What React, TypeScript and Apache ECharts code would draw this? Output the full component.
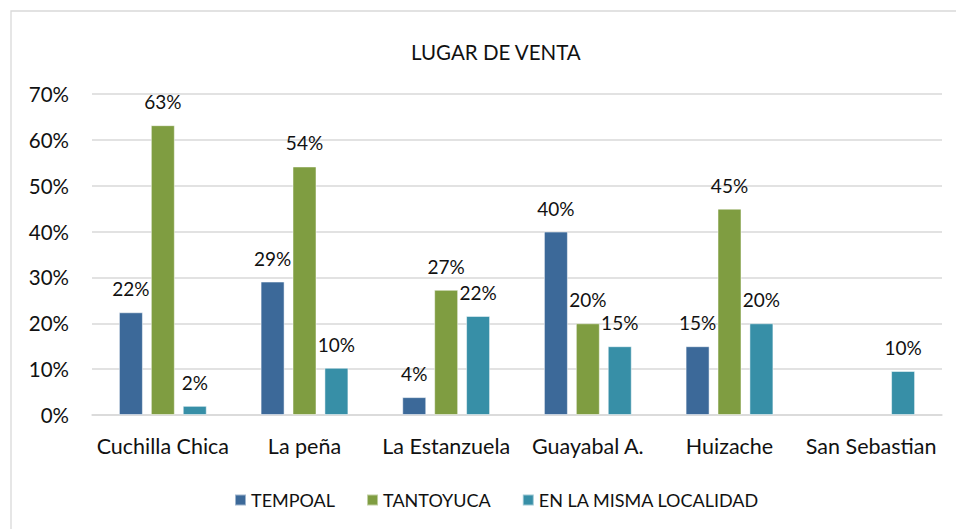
import React, { useEffect, useRef } from "react";
import * as echarts from "echarts";

const categories = ["Cuchilla Chica", "La peña", "La Estanzuela", "Guayabal A.", "Huizache", "San Sebastian"];
const seriesNames = ["TEMPOAL", "TANTOYUCA", "EN LA MISMA LOCALIDAD"];
const tempoal: (number | null)[] = [22.4, 29.1, 3.9, 40.0, 15.0, null];
const tantoyuca: (number | null)[] = [63.2, 54.2, 27.3, 20.0, 45.0, null];
const mismaLocalidad: (number | null)[] = [2.0, 10.3, 21.6, 15.0, 20.0, 9.6];
const colors = ["#3C6999", "#7F9D41", "#378FA7"];
const yTicks = { min: 0, max: 70, interval: 10 };

const FONT = "Lato, 'Noto Sans', sans-serif";

export default function App() {
  const ref = useRef<HTMLDivElement>(null);
  useEffect(() => {
    if (!ref.current) return;
    const chart = echarts.init(ref.current, null, { renderer: "svg" });
    const data = [tempoal, tantoyuca, mismaLocalidad];
    chart.setOption({
      animation: false,
      backgroundColor: "#ffffff",
      textStyle: { fontFamily: FONT },
      graphic: [
        {
          type: "rect",
          shape: { x: 11, y: 11, width: 1200, height: 800 },
          style: { fill: "none", stroke: "#d9d9d9", lineWidth: 1.3 },
          silent: true,
        },
      ],
      title: {
        text: "LUGAR DE VENTA",
        left: 406,
        top: 36,
        textStyle: { fontFamily: FONT, fontSize: 20.5, fontWeight: "normal", color: "#111" },
      },
      legend: {
        left: 229,
        top: 486,
        itemWidth: 11,
        itemHeight: 11,
        itemGap: 31,
        icon: "rect",
        textStyle: { fontFamily: FONT, fontSize: 18, color: "#111" },
        data: seriesNames,
      },
      grid: { left: 92, right: 14, top: 94, bottom: 114, containLabel: false },
      xAxis: {
        type: "category",
        data: categories,
        axisLine: { show: true, lineStyle: { color: "#d9d9d9", width: 1.5 } },
        axisTick: { show: false },
        axisLabel: { fontFamily: FONT, fontSize: 21.5, color: "#111", margin: 20, interval: 0 },
      },
      yAxis: {
        type: "value",
        min: yTicks.min,
        max: yTicks.max,
        interval: yTicks.interval,
        axisLine: { show: false },
        axisTick: { show: false },
        splitLine: { lineStyle: { color: "#d9d9d9", width: 1.5 } },
        axisLabel: {
          fontFamily: FONT,
          fontSize: 20.5,
          color: "#111",
          margin: 23,
          formatter: (v: number) => `${v}%`,
        },
      },
      series: seriesNames.map((name, i) => ({
        name,
        type: "bar",
        data: data[i],
        barWidth: 24,
        barGap: "33%",
        itemStyle: { color: colors[i], borderColor: "rgba(255,255,255,0.5)", borderWidth: 1 },
        label: {
          show: true,
          position: "top",
          distance: 14,
          fontFamily: FONT,
          fontSize: 19,
          color: "#111",
          formatter: (p: any) => (p.value == null ? "" : `${Math.round(p.value)}%`),
        },
      })),
    });
    return () => chart.dispose();
  }, []);
  return <div ref={ref} style={{ position: "fixed", left: 0, top: 0, width: 956, height: 529 }} />;
}
